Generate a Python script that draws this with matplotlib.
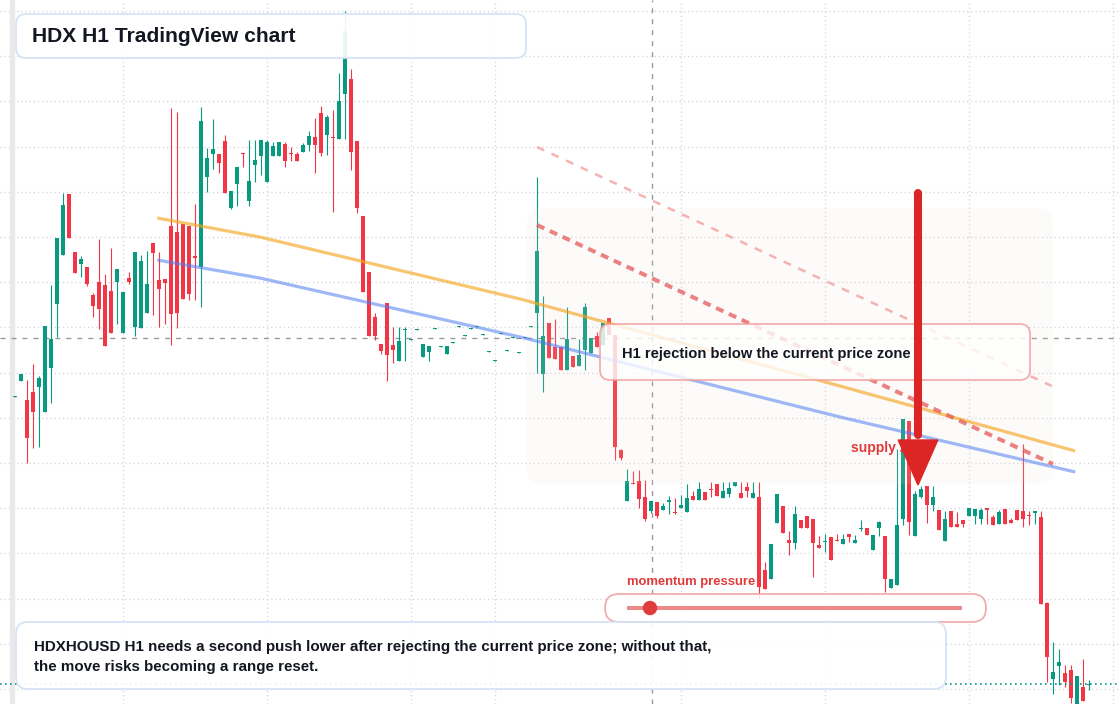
import numpy as np
import matplotlib
matplotlib.use("Agg")
import matplotlib.pyplot as plt
import matplotlib.transforms as mtransforms
from matplotlib.patches import FancyBboxPatch, Rectangle, Polygon, Circle

plt.rcParams['font.family'] = ['Liberation Sans', 'DejaVu Sans']

# ============================================================
# DATA - HDX H1 candles (price in 1e-5 units, one candle per hour)
# ============================================================

opens = [307, 323, 304, 312, 317, 292, 336, 400, 449, 510,
         452, 440, 437, 409, 422, 419, 413, 422, 371, 426,
         377, 376, 391, 461, 424, 425, 478, 472, 480, 478,
         448, 437, 527, 550, 550, 563, 496, 520, 551, 503,
         539, 548, 522, 548, 548, 560, 551, 550, 552, 559,
         567, 591, 569, 567, 565, 610, 625, 563, 488, 432,
         387, 360, 401, 359, 343, 374, 364, 374, 347, 352,
         375, 357, 350, 361, 377, 368, 375, 377, 369, 352,
         343, 370, 353, 366, 351, 366, 377, 391, 330, 381,
         357, 357, 334, 348, 338, 354, 351, 368, 359, 386,
         369, 254, 203, 221, 223, 207, 193, 202, 194, 202,
         192, 196, 192, 208, 204, 212, 215, 220, 206, 210,
         218, 211, 217, 206, 207, 134, 125, 181, 198, 164,
         161, 184, 188, 185, 159, 162, 167, 164, 160, 170,
         161, 175, 176, 154, 176, 168, 116, 119, 185, 283,
         168, 207, 218, 199, 194, 163, 193, 180, 184, 188,
         188, 185, 196, 187, 180, 195, 184, 194, 193, 189,
         191, 187, 101, 25, 38, 31, 34, -10, 17, 19]

highs = [308, 330, 324, 340, 328, 378, 419, 466, 511, 510,
         452, 448, 437, 411, 465, 430, 456, 435, 412, 432,
         452, 449, 453, 461, 452, 425, 596, 592, 480, 478,
         500, 597, 556, 585, 550, 569, 513, 537, 551, 564,
         564, 564, 564, 562, 562, 562, 557, 552, 561, 573,
         586, 598, 589, 594, 631, 693, 635, 563, 488, 432,
         391, 360, 401, 377, 377, 377, 365, 375, 360, 358,
         376, 358, 358, 362, 378, 369, 376, 378, 370, 353,
         344, 371, 354, 367, 352, 367, 378, 527, 408, 381,
         385, 357, 397, 348, 365, 401, 366, 372, 381, 386,
         369, 255, 235, 233, 234, 224, 203, 202, 201, 208,
         206, 209, 220, 213, 222, 212, 222, 220, 222, 222,
         222, 222, 222, 222, 222, 142, 160, 210, 198, 173,
         198, 184, 188, 185, 168, 170, 167, 170, 170, 170,
         169, 184, 176, 169, 183, 168, 125, 255, 285, 283,
         213, 218, 218, 218, 194, 193, 193, 192, 184, 196,
         195, 196, 196, 189, 194, 195, 186, 194, 260, 193,
         193, 193, 102, 62, 55, 39, 39, 28, 45, 24]

lows = [307, 323, 241, 256, 257, 292, 301, 367, 449, 466,
        431, 427, 418, 387, 375, 358, 371, 380, 371, 420,
        368, 376, 391, 389, 377, 380, 359, 376, 405, 404,
        404, 397, 512, 535, 531, 511, 495, 498, 537, 498,
        522, 529, 522, 548, 548, 537, 543, 543, 552, 553,
        531, 548, 549, 492, 565, 565, 534, 491, 412, 368,
        364, 350, 323, 341, 343, 343, 364, 374, 347, 343,
        375, 357, 350, 361, 377, 368, 375, 377, 369, 352,
        343, 370, 353, 366, 351, 366, 377, 331, 312, 346,
        345, 334, 334, 337, 338, 334, 351, 357, 359, 369,
        244, 244, 203, 220, 196, 183, 191, 186, 194, 190,
        190, 196, 192, 204, 204, 204, 207, 208, 206, 207,
        218, 206, 207, 206, 106, 115, 125, 181, 171, 149,
        155, 176, 176, 127, 156, 152, 144, 163, 160, 162,
        161, 173, 169, 154, 168, 112, 116, 119, 179, 169,
        168, 206, 181, 193, 174, 163, 177, 177, 177, 188,
        180, 180, 180, 179, 180, 180, 181, 184, 177, 179,
        180, 100, 22, 10, 19, 17, 1, -12, 3, 14]

closes = [308, 330, 266, 292, 326, 378, 365, 466, 499, 466,
          431, 445, 420, 398, 395, 358, 371, 435, 412, 422,
          452, 443, 420, 451, 415, 421, 390, 391, 405, 410,
          446, 583, 546, 555, 541, 511, 513, 537, 550, 523,
          544, 564, 562, 558, 562, 543, 550, 543, 559, 568,
          559, 551, 587, 566, 603, 673, 552, 496, 412, 368,
          368, 353, 349, 354, 363, 375, 365, 375, 360, 358,
          376, 358, 358, 362, 378, 369, 376, 378, 370, 353,
          344, 371, 354, 367, 352, 367, 378, 453, 368, 346,
          345, 334, 365, 337, 349, 397, 366, 357, 381, 369,
          257, 246, 223, 220, 205, 185, 203, 188, 198, 204,
          191, 199, 206, 204, 215, 204, 214, 208, 213, 216,
          222, 206, 213, 211, 117, 115, 160, 210, 171, 161,
          190, 176, 176, 161, 156, 163, 144, 163, 165, 167,
          164, 176, 169, 169, 182, 125, 125, 179, 285, 182,
          210, 215, 199, 207, 174, 185, 177, 177, 180, 196,
          195, 194, 194, 179, 192, 180, 181, 184, 185, 188,
          193, 100, 47, 32, 42, 22, 6, 28, 3, 20]

# trend lines drawn on the chart (candle index, price)
orange_idx = [23.7, 40.8, 84.2, 137.5, 176.7]
orange_price = [486, 467, 405, 318, 253]
blue_idx = [23.7, 40.8, 84.2, 137.5, 176.7]
blue_price = [444, 426, 367, 287, 232]
red_dash_idx = [87, 173]
red_dash_price = [479, 240]
red_light_idx = [87, 172.8]
red_light_price = [557, 318]

# crosshair, current price line and supply arrow
cross_idx = 106.2
cross_price = 366
last_price = 20
arrow_idx = 150.5
arrow_from = 511
arrow_to = 219

grid_idx = [18, 42, 66, 80, 111, 135, 159, 183]

GREEN = '#089981'
RED = '#f23645'
W, H = 1120, 704

# ============================================================
# FIGURE
# ============================================================

fig = plt.figure(figsize=(W / 100, H / 100), dpi=100)
ax = fig.add_axes([0, 0, 1, 1])
ax.set_xlim(-2.5, (W - 15) / 6)
ax.set_ylim(0, H)
for s in ax.spines.values():
    s.set_visible(False)
ax.set_xticks(grid_idx)
ax.set_yticks(np.arange(15, H, 45.2))
ax.tick_params(length=0, labelleft=False, labelbottom=False)
ax.grid(True, linestyle=(0, (0.8, 2.2)), color='#cfd2d9', linewidth=1)
ax.set_axisbelow(True)

# pixel transform for the overlay boxes
pix = mtransforms.Affine2D().scale(1 / W, -1 / H).translate(0, 1) + fig.transFigure

# left strip
ax.add_patch(Rectangle((10, 0), 4, H, transform=pix, color='#e9e9e9', zorder=1))

# crosshair
ax.axhline(cross_price, color='#9a9a9a', lw=1, linestyle=(0, (3.6, 4.3)), zorder=1.5)
ax.axvline(cross_idx, color='#9a9a9a', lw=1, linestyle=(0, (3.6, 4.3)), zorder=1.5)

# ============================================================
# CANDLES
# ============================================================

o = np.array(opens, dtype=float)
h = np.array(highs, dtype=float)
l = np.array(lows, dtype=float)
c = np.array(closes, dtype=float)
x = np.arange(len(o))
cores = np.where(c >= o, GREEN, RED)

ax.vlines(x, l, h, colors=cores, linewidth=0.8, zorder=2)
base = np.minimum(o, c)
altura = np.maximum(np.abs(c - o), 1.2)
ax.bar(x, altura, bottom=base, width=0.82, color=cores, linewidth=0, zorder=3)

# current price line
ax.axhline(last_price, color=GREEN, lw=1.2, linestyle=(0, (1, 2)), zorder=3.5)

# shaded zone (very faint, sits over the candles)
ax.add_patch(FancyBboxPatch((527, 208), 526, 276, boxstyle='round,pad=0,rounding_size=16',
                            transform=pix, facecolor='#f0e0d0', edgecolor='none',
                            alpha=0.12, zorder=3.8))

# ============================================================
# DRAWINGS
# ============================================================

ax.plot(orange_idx, orange_price, color='#f5a623', lw=2.3, alpha=0.65, zorder=4,
        solid_capstyle='butt')
ax.plot(blue_idx, blue_price, color='#4f7ef0', lw=2.3, alpha=0.55, zorder=4,
        solid_capstyle='butt')
ax.plot(red_dash_idx, red_dash_price, color='#e55a5a', lw=2.9, alpha=0.75,
        linestyle=(0, (2.0, 1.5)), zorder=4)
ax.plot(red_light_idx, red_light_price, color='#f29a9a', lw=1.8, alpha=0.75,
        linestyle=(0, (3.2, 3.2)), zorder=4)

# title box
ax.add_patch(FancyBboxPatch((16, 14), 510, 44, boxstyle='round,pad=0,rounding_size=10',
                            transform=pix, facecolor='white', alpha=0.92,
                            edgecolor='#d3e2f6', linewidth=1.3, zorder=5))
ax.text(32, 36, 'HDX H1 TradingView chart', transform=pix, fontsize=15.1,
        fontweight='bold', color='#131722', va='center', ha='left', zorder=6)

# rejection box
ax.add_patch(FancyBboxPatch((600, 324), 430, 56, boxstyle='round,pad=0,rounding_size=10',
                            transform=pix, facecolor='white', alpha=0.8,
                            edgecolor='#f29b9b', linewidth=1.3, zorder=5))
ax.text(622, 354, 'H1 rejection below the current price zone', transform=pix,
        fontsize=10.6, fontweight='bold', color='#131722', va='center', ha='left', zorder=6)

# supply zone label
ax.text(851, 448, 'supply zone', transform=pix, fontsize=10, fontweight='bold',
        color='#e03a3a', va='center', ha='left', zorder=6)

# momentum pill
ax.text(627, 582, 'momentum pressure', transform=pix, fontsize=9.4, fontweight='bold',
        color='#e03a3a', va='center', ha='left', zorder=6)
ax.add_patch(FancyBboxPatch((605, 594), 381, 28, boxstyle='round,pad=0,rounding_size=14',
                            transform=pix, facecolor='white', alpha=0.85,
                            edgecolor='#f0a0a0', linewidth=1.3, zorder=5))
ax.plot([627, 962], [608, 608], transform=pix, color='#ee8a8a', lw=2.9, zorder=6,
        solid_capstyle='butt')
ax.add_patch(Circle((650, 608), 6.5, transform=pix, color='#e03c3c', zorder=6.5))

# bottom note
ax.add_patch(FancyBboxPatch((16, 622), 930, 67, boxstyle='round,pad=0,rounding_size=12',
                            transform=pix, facecolor='white', alpha=0.93,
                            edgecolor='#d3e2f6', linewidth=1.3, zorder=5))
ax.text(34, 647, 'HDXHOUSD H1 needs a second push lower after rejecting the current '
        'price zone; without that,', transform=pix, fontsize=10.9, fontweight='bold',
        color='#131722', va='center', ha='left', zorder=6)
ax.text(34, 667, 'the move risks becoming a range reset.', transform=pix, fontsize=10.9,
        fontweight='bold', color='#131722', va='center', ha='left', zorder=6)

# supply arrow
ax.plot([arrow_idx, arrow_idx], [arrow_from, arrow_to + 50], color='#dc2626', lw=5.8,
        solid_capstyle='round', zorder=7)
ax.add_patch(Polygon([(arrow_idx - 3.3, arrow_to + 45), (arrow_idx + 3.3, arrow_to + 45),
                      (arrow_idx, arrow_to)], closed=True, color='#dc2626', zorder=7))

fig.savefig('out.png', dpi=100, facecolor='white')
